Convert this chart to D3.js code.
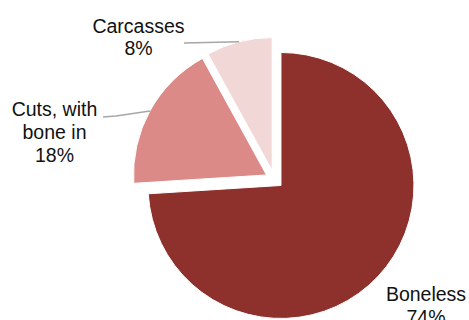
<!DOCTYPE html>
<html lang="en">
<head>
    <meta charset="UTF-8">
    <title>Meat by cut</title>
    <script src="https://d3js.org/d3.v7.min.js"></script>
    <style>
        body { margin: 0; background: #fff; }
        .label { font-family: "Liberation Sans", Arial, sans-serif; font-size: 19.5px; fill: #111; }
    </style>
</head>
<body>
    <script>
        // data
        const categories = ["Boneless", "Cuts, with bone in", "Carcasses"];
        const labelLines = [["Boneless", "74%"], ["Cuts, with", "bone in", "18%"], ["Carcasses", "8%"]];
        const shares = [74, 18, 8];
        const colours = ["#8e302c", "#db8a87", "#f2d7d7"];

        const width = 469, height = 320;
        const cx = 274.4, cy = 179.3;   // pie centre before explosion
        const radius = 133;
        const explode = 9;

        const svg = d3.select("body").append("svg")
            .attr("width", width)
            .attr("height", height);

        const pie = d3.pie().sort(null).value(d => d);
        const arcs = pie(shares);

        const arc = d3.arc().innerRadius(0).outerRadius(radius);

        // offset of each slice along its bisector
        const shift = d => {
            const a = (d.startAngle + d.endAngle) / 2;
            return [explode * Math.sin(a), -explode * Math.cos(a)];
        };

        const g = svg.append("g").attr("transform", `translate(${cx},${cy})`);

        g.selectAll("path.slice")
            .data(arcs)
            .enter()
            .append("path")
            .attr("class", "slice")
            .attr("transform", d => `translate(${shift(d)})`)
            .attr("d", arc)
            .attr("fill", (d, i) => colours[i])
            .attr("stroke", "#fff")
            .attr("stroke-width", 1);

        // leader lines: from label to the slice's outer edge at its bisector
        const edge = d => {
            const a = (d.startAngle + d.endAngle) / 2;
            const s = shift(d);
            return [cx + s[0] + radius * Math.sin(a), cy + s[1] - radius * Math.cos(a)];
        };
        const leaderStart = { 1: [[103, 117], [116, 116]], 2: [[184, 43]] };
        Object.keys(leaderStart).forEach(k => {
            const pts = leaderStart[k].concat([edge(arcs[k])]);
            svg.append("path")
                .attr("d", d3.line()(pts))
                .attr("fill", "none")
                .attr("stroke", "#a6a6a6")
                .attr("stroke-width", 1.5);
        });

        // label placement (centre x, first baseline)
        const labelPos = [[426, 301], [54.5, 116], [138.5, 32.5]];
        const lineGap = 22.8;
        labelLines.forEach((lines, i) => {
            const t = svg.append("text")
                .attr("class", "label")
                .attr("text-anchor", "middle")
                .attr("x", labelPos[i][0])
                .attr("y", labelPos[i][1]);
            lines.forEach((ln, j) => {
                t.append("tspan")
                    .attr("x", labelPos[i][0])
                    .attr("dy", j === 0 ? 0 : lineGap)
                    .text(ln);
            });
        });
    </script>
</body>
</html>
